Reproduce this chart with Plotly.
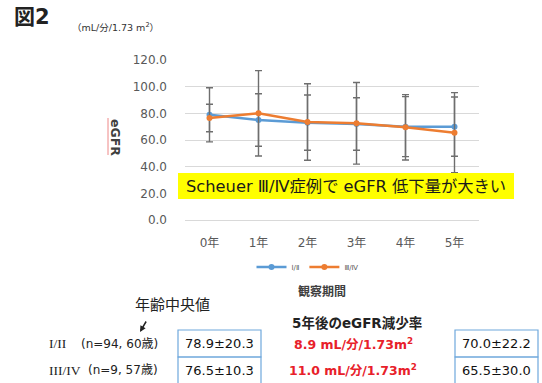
import plotly.graph_objects as go

# eGFR over the observation period, by Scheuer stage group
years = ["0年", "1年", "2年", "3年", "4年", "5年"]
mean_12 = [78.9, 75.0, 73.0, 72.0, 70.0, 70.0]
sd_12 = [20.3, 19.7, 20.7, 19.7, 22.5, 22.2]
mean_34 = [76.5, 80.0, 73.5, 72.5, 69.5, 65.5]
sd_34 = [10.3, 32.0, 28.7, 30.6, 24.5, 30.0]
series_names = ["Ⅰ/Ⅱ", "Ⅲ/Ⅳ"]
y_ticks = [0, 20, 40, 60, 80, 100, 120]

# table below the chart
row_stage = ["I/II", "III/IV"]
row_info = ["(n=94, 60歳)", "(n=9, 57歳)"]
baseline_text = ["78.9±20.3", "76.5±10.3"]
year5_text = ["70.0±22.2", "65.5±30.0"]
decline_text = ["8.9 mL/分/1.73m<sup>2</sup>", "11.0 mL/分/1.73m<sup>2</sup>"]

W, H = 542, 383
L, R, T, B = 185, 63, 60, 163
PW, PH = W - L - R, H - T - B

def px(x):
    return (x - L) / PW

def py(y):
    return (H - B - y) / PH

JP = "'DejaVu Sans', 'Noto Sans CJK JP'"
SERIF = "'Liberation Serif', 'DejaVu Serif'"
GRID = "#d9d9d9"
ERR = "#6e6e6e"

def label(x, y, text, size, color="#222222", anchor="center", family=JP, **kw):
    return dict(xref="paper", yref="paper", x=px(x), y=py(y), text=text,
                xanchor=anchor, yanchor="middle", showarrow=False,
                font=dict(size=size, color=color, family=family), **kw)

fig = go.Figure()
fig.add_trace(go.Scatter(
    x=years, y=mean_12, name=series_names[0], mode="lines+markers",
    line=dict(color="#5b9bd5", width=2.5), marker=dict(size=6, color="#5b9bd5"),
    error_y=dict(type="data", array=sd_12, color=ERR, thickness=1.4, width=3.5),
))
fig.add_trace(go.Scatter(
    x=years, y=mean_34, name=series_names[1], mode="lines+markers",
    line=dict(color="#ed7d31", width=2.5), marker=dict(size=6, color="#ed7d31"),
    error_y=dict(type="data", array=sd_34, color=ERR, thickness=1.4, width=3.5),
))

fig.update_layout(
    width=W, height=H,
    margin=dict(l=L, r=R, t=T, b=B, pad=0),
    paper_bgcolor="white", plot_bgcolor="white",
    font=dict(family=JP, color="#595959"),
    showlegend=True,
    legend=dict(orientation="h", x=px(308), y=py(267), xanchor="center", yanchor="middle",
                font=dict(size=7, color="#595959"), itemwidth=30, bgcolor="rgba(0,0,0,0)"),
    xaxis=dict(type="category", range=[-0.5, 5.5], showgrid=False, zeroline=False,
               showline=True, linecolor=GRID, linewidth=1, ticks="",
               tickfont=dict(size=12, color="#595959"), ticklabelstandoff=12),
    yaxis=dict(range=[0, 120], tickvals=y_ticks, ticktext=[f"{v:.1f}" for v in y_ticks],
               showgrid=True, gridcolor=GRID, gridwidth=1, zeroline=False, showline=False,
               tickfont=dict(size=12, color="#595959"), ticklabelstandoff=17),
)

shapes = []
annotations = []

# highlight banner
shapes.append(dict(type="rect", xref="paper", yref="paper", layer="above",
                   x0=px(178), x1=px(514), y0=py(199), y1=py(173),
                   fillcolor="#ffff00", line=dict(width=0)))
annotations.append(label(346, 186, "Scheuer Ⅲ/Ⅳ症例で eGFR 低下量が大きい", 16.3, "#1a1a1a"))

# figure title and units
annotations.append(label(12, 17, "<b>図2</b>", 21, "#222222", anchor="left"))
annotations.append(label(70, 27, "（mL/分/1.73 m<sup>2</sup>）", 9.5, "#333333", anchor="left"))

# y-axis title
annotations.append(label(116, 137, "<b>eGFR</b>", 12.5, "#404040", textangle=90))
shapes.append(dict(type="line", xref="paper", yref="paper", x0=px(108), x1=px(108),
                   y0=py(118), y1=py(155), line=dict(color="#ee8888", width=1)))

# x-axis title
annotations.append(label(322, 291, "<b>観察期間</b>", 12, "#404040"))

# table headers
annotations.append(label(172, 305, "年齢中央値", 15, "#222222"))
annotations.append(dict(xref="paper", yref="paper", x=px(140), y=py(332),
                        ax=7, ay=-12, axref="pixel", ayref="pixel",
                        text="", showarrow=True, arrowhead=2, arrowsize=0.8,
                        arrowwidth=1.5, arrowcolor="#222222"))
annotations.append(label(357, 323, "<b>5年後のeGFR減少率</b>", 13.5, "#222222"))

row_y = [343.5, 370]
box_edges = [330, 357, 384]
for i in range(2):
    annotations.append(label(47, row_y[i], row_stage[i], 13.5, "#222222", anchor="left", family=SERIF))
    annotations.append(label(160, row_y[i], row_info[i], 12, "#222222", anchor="right"))
    annotations.append(label(219.5, row_y[i], baseline_text[i], 13, "#111111"))
    annotations.append(label(496.5, row_y[i], year5_text[i], 13, "#111111"))
    annotations.append(label(353, row_y[i], "<b>" + decline_text[i] + "</b>", 12.5, "#e8202a"))
    for x0, x1 in [(178, 261), (455, 538)]:
        shapes.append(dict(type="rect", xref="paper", yref="paper",
                           x0=px(x0), x1=px(x1), y0=py(box_edges[i + 1]), y1=py(box_edges[i]),
                           line=dict(color="#6fa8dc", width=1.2), fillcolor="rgba(0,0,0,0)"))

fig.update_layout(shapes=shapes, annotations=annotations)
fig.write_html("out.html")
